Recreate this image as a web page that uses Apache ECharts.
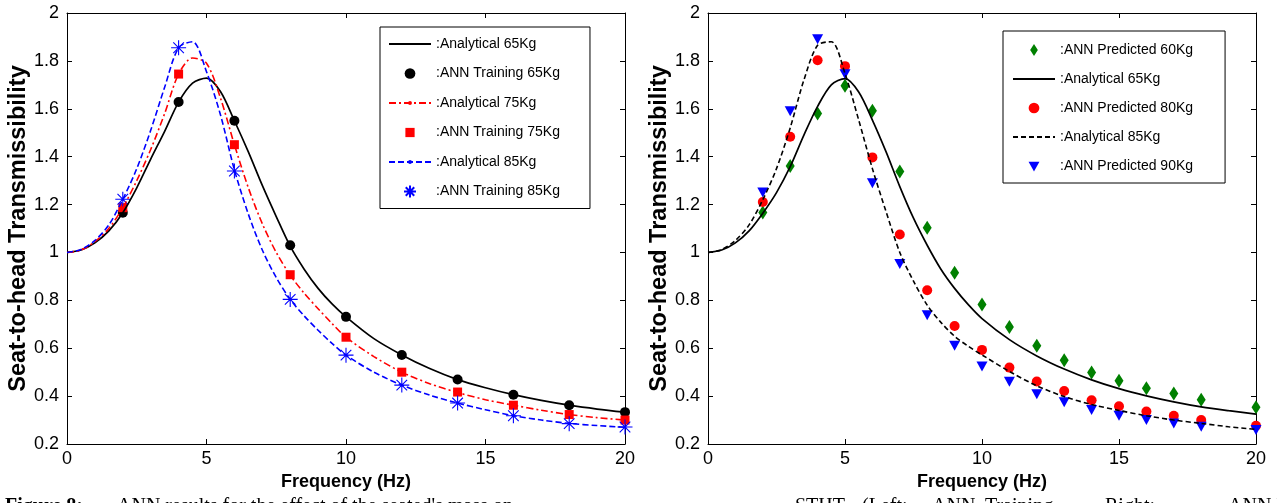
<!DOCTYPE html>
<html><head><meta charset="utf-8">
<script src="https://cdn.jsdelivr.net/npm/echarts@6/dist/echarts.min.js"></script>
<style>html,body{margin:0;padding:0;background:#fff;overflow:hidden}#c{width:1277px;height:503px}</style>
</head><body><div id="c"></div>
<script>
// ---------- data ----------
const curveFreq = [0,0.5,1,1.5,2,2.5,3,3.5,4,4.5,5,5.5,6,6.5,7,7.5,8,8.5,9,9.5,10,11,12,13,14,15,16,17,18,19,20];
// Left panel analytical curves
const left65 = [1.00,1.01,1.04,1.09,1.166,1.27,1.39,1.506,1.628,1.707,1.728,1.672,1.55,1.42,1.28,1.15,1.026,0.93,0.85,0.785,0.731,0.64,0.572,0.515,0.469,0.435,0.406,0.382,0.362,0.346,0.333];
const left75 = [1.00,1.01,1.045,1.10,1.187,1.30,1.43,1.58,1.745,1.812,1.79,1.645,1.45,1.27,1.12,1.0,0.905,0.83,0.765,0.703,0.646,0.565,0.50,0.452,0.415,0.385,0.362,0.341,0.323,0.31,0.30];
const left85 = [1.00,1.012,1.05,1.115,1.222,1.35,1.51,1.69,1.855,1.88,1.755,1.575,1.345,1.16,1.01,0.895,0.804,0.735,0.675,0.62,0.571,0.50,0.446,0.404,0.371,0.343,0.318,0.30,0.286,0.277,0.27];
// Left panel ANN training points
const trainFreq = [2,4,6,8,10,12,14,16,18,20];
const train65 = [1.166,1.628,1.55,1.03,0.731,0.572,0.469,0.406,0.362,0.333];
const train75 = [1.187,1.745,1.45,0.907,0.646,0.50,0.417,0.362,0.323,0.30];
const train85 = [1.222,1.855,1.34,0.804,0.571,0.446,0.371,0.318,0.285,0.271];
// Right panel analytical curves
const right65 = [1.00,1.01,1.04,1.09,1.164,1.25,1.358,1.49,1.61,1.70,1.726,1.67,1.553,1.42,1.275,1.143,1.03,0.93,0.85,0.782,0.724,0.636,0.568,0.513,0.468,0.431,0.401,0.376,0.355,0.339,0.325];
const right85 = [1.00,1.012,1.05,1.115,1.22,1.35,1.52,1.72,1.865,1.88,1.747,1.553,1.35,1.17,1.0,0.88,0.78,0.708,0.65,0.608,0.572,0.503,0.443,0.398,0.365,0.34,0.318,0.30,0.286,0.272,0.261];
// Right panel ANN predicted points
const predFreq = [2,3,4,5,6,7,8,9,10,11,12,13,14,15,16,17,18,20];
const pred60 = [1.167,1.361,1.58,1.696,1.592,1.338,1.103,0.915,0.783,0.689,0.61,0.55,0.499,0.464,0.433,0.411,0.385,0.353];
const pred80 = [1.211,1.483,1.803,1.778,1.397,1.075,0.842,0.693,0.593,0.519,0.461,0.421,0.383,0.358,0.336,0.318,0.30,0.276];
const pred90 = [1.25,1.59,1.89,1.744,1.289,0.952,0.738,0.61,0.524,0.46,0.408,0.374,0.342,0.318,0.30,0.286,0.272,0.258];
// Axis ticks
const xTicks = {min:0, max:20, interval:5};
const yTicks = {min:0.2, max:2, interval:0.2};
const xTitle = 'Frequency (Hz)';
const yTitle = 'Seat-to-head Transmissibility';
// Caption words (justified line, cut off at the bottom edge)
const captionWords = [
  {t:'Figure 8:', bold:true, x:5},
  {t:"ANN results for the effect of the seated's mass on", x:117},
  {t:'STHT', x:795},
  {t:'(Left:', x:862},
  {t:'ANN', x:932},
  {t:'Training,', x:985},
  {t:'Right:', x:1105},
  {t:'ANN Predicted)', x:1228}
];

// ---------- chart ----------
const chart = echarts.init(document.getElementById('c'), null, {renderer:'canvas'});
const pairs = (xs, ys) => xs.map((x,i)=>[x, ys[i]]);
const FONT = '"Liberation Sans", Arial, sans-serif';
const SERIF = '"Liberation Serif", "Times New Roman", serif';
const axLine = {show:true, onZero:false, lineStyle:{color:'#000', width:1}};
const axTick = {show:true, inside:true, length:5, lineStyle:{color:'#000', width:1}};

function xBottom(g){ return {type:'value', gridIndex:g, position:'bottom', ...xTicks,
  axisLine:axLine, axisTick:axTick, splitLine:{show:false},
  axisLabel:{color:'#000', fontSize:18, fontFamily:FONT, margin:6},
  name:xTitle, nameLocation:'middle', nameGap:28,
  nameTextStyle:{fontWeight:'bold', fontSize:18, fontFamily:FONT, color:'#000'}}; }
function xTop(g){ return {type:'value', gridIndex:g, position:'top', ...xTicks,
  axisLine:axLine, axisTick:axTick, splitLine:{show:false}, axisLabel:{show:false}}; }
function yLeft(g){ return {type:'value', gridIndex:g, position:'left', ...yTicks,
  axisLine:axLine, axisTick:axTick, splitLine:{show:false},
  axisLabel:{color:'#000', fontSize:18, fontFamily:FONT, margin:8, formatter:v=>String(Math.round(v*10)/10)},
  name:yTitle, nameLocation:'middle', nameGap:32, nameRotate:90,
  nameTextStyle:{fontWeight:'bold', fontSize:23.5, fontFamily:FONT, color:'#000'}}; }
function yRight(g){ return {type:'value', gridIndex:g, position:'right', ...yTicks,
  axisLine:axLine, axisTick:axTick, splitLine:{show:false}, axisLabel:{show:false}}; }

// marker shapes (padded paths keep legend icons undistorted)
const noMark = 'path://M-10,-10 M10,10';
const smallDot = 'path://M-10,-10 M10,10 M-4,0 A4,4 0 1 1 4,0 A4,4 0 1 1 -4,0 Z';
const star = 'path://M0,-10 L0,10 M-10,0 L10,0 M-7.07,-7.07 L7.07,7.07 M-7.07,7.07 L7.07,-7.07';
const squareIcon = 'path://M-1.5,-1.5 M11.5,11.5 M0,0 L10,0 L10,10 L0,10 Z';
const diamondIcon = 'path://M0,-7 L4.5,0 L0,7 L-4.5,0 Z';
const triIcon = 'path://M-5.5,-5.5 M5.5,5.5 M-5,-4 L5,-4 L0,5 Z';
const circleIcon = 'path://M-5.6,-5.6 M5.6,5.6 M-5,0 A5,5 0 1 1 5,0 A5,5 0 1 1 -5,0 Z';
const strip = n => ':' + n.replace(/ \(R\)$/, '');

const legendBase = {orient:'vertical', itemWidth:42, itemHeight:12, selectedMode:false,
  borderColor:'#000', borderWidth:1, backgroundColor:'#fff',
  textStyle:{fontSize:14, fontFamily:FONT, color:'#000'}, formatter:strip};

const option = {
  animation:false,
  backgroundColor:'#fff',
  grid:[
    {left:67, top:13, width:558, height:431},
    {left:708, top:13, width:548, height:431}
  ],
  xAxis:[xBottom(0), xTop(0), xBottom(1), xTop(1)],
  yAxis:[yLeft(0), yRight(0), yLeft(1), yRight(1)],
  legend:[
    Object.assign({}, legendBase, {left:380, top:27, itemGap:15.5, padding:[10,30,10,8],
      data:['Analytical 65Kg',{name:'ANN Training 65Kg', icon:circleIcon},'Analytical 75Kg',
            {name:'ANN Training 75Kg', icon:squareIcon},'Analytical 85Kg','ANN Training 85Kg']}),
    Object.assign({}, legendBase, {left:1003, top:31, itemGap:15, padding:[12,32,10,9],
      data:[{name:'ANN Predicted 60Kg', icon:diamondIcon},'Analytical 65Kg (R)',
            {name:'ANN Predicted 80Kg', icon:circleIcon},'Analytical 85Kg (R)',
            {name:'ANN Predicted 90Kg', icon:triIcon}]})
  ],
  series:[
    {name:'Analytical 65Kg', type:'line', xAxisIndex:0, yAxisIndex:0, data:pairs(curveFreq,left65),
      smooth:0.3, symbol:noMark, showSymbol:false, lineStyle:{color:'#000', width:1.7}, itemStyle:{color:'#000'}},
    {name:'Analytical 75Kg', type:'line', xAxisIndex:0, yAxisIndex:0, data:pairs(curveFreq,left75),
      smooth:0.3, symbol:smallDot, showSymbol:false,
      lineStyle:{color:'#ff0000', width:1.6, type:[7,3,2,3]}, itemStyle:{color:'#ff0000'}},
    {name:'Analytical 85Kg', type:'line', xAxisIndex:0, yAxisIndex:0, data:pairs(curveFreq,left85),
      smooth:0.3, symbol:smallDot, showSymbol:false,
      lineStyle:{color:'#0000ff', width:1.6, type:[6,3]}, itemStyle:{color:'#0000ff'}},
    {name:'ANN Training 65Kg', type:'scatter', xAxisIndex:0, yAxisIndex:0, data:pairs(trainFreq,train65),
      symbol:'circle', symbolSize:10, itemStyle:{color:'#000', opacity:1}},
    {name:'ANN Training 75Kg', type:'scatter', xAxisIndex:0, yAxisIndex:0, data:pairs(trainFreq,train75),
      symbol:'rect', symbolSize:9, itemStyle:{color:'#ff0000', opacity:1}},
    {name:'ANN Training 85Kg', type:'scatter', xAxisIndex:0, yAxisIndex:0, data:pairs(trainFreq,train85),
      symbol:star, symbolSize:15, itemStyle:{color:'#0000ff', borderColor:'#0000ff', borderWidth:1.1, opacity:1}},

    {name:'Analytical 65Kg (R)', type:'line', xAxisIndex:2, yAxisIndex:2, data:pairs(curveFreq,right65),
      smooth:0.3, symbol:noMark, showSymbol:false, lineStyle:{color:'#000', width:1.7}, itemStyle:{color:'#000'}},
    {name:'Analytical 85Kg (R)', type:'line', xAxisIndex:2, yAxisIndex:2, data:pairs(curveFreq,right85),
      smooth:0.3, symbol:noMark, showSymbol:false, lineStyle:{color:'#000', width:1.6, type:[5,3]}, itemStyle:{color:'#000'}},
    {name:'ANN Predicted 60Kg', type:'scatter', xAxisIndex:2, yAxisIndex:2, data:pairs(predFreq,pred60),
      symbol:'diamond', symbolSize:[9,14], itemStyle:{color:'#008000', opacity:1}},
    {name:'ANN Predicted 80Kg', type:'scatter', xAxisIndex:2, yAxisIndex:2, data:pairs(predFreq,pred80),
      symbol:'circle', symbolSize:10, itemStyle:{color:'#ff0000', opacity:1}},
    {name:'ANN Predicted 90Kg', type:'scatter', xAxisIndex:2, yAxisIndex:2, data:pairs(predFreq,pred90),
      symbol:'triangle', symbolRotate:180, symbolSize:[11,10], itemStyle:{color:'#0000ff', opacity:1}}
  ],
  graphic: captionWords.map(w => ({type:'text', left:w.x, top:497,
    style:{text:w.t, font:(w.bold ? 'bold ' : '') + '20px ' + SERIF, fill:'#000'}}))
};
chart.setOption(option);
</script>
</body></html>
